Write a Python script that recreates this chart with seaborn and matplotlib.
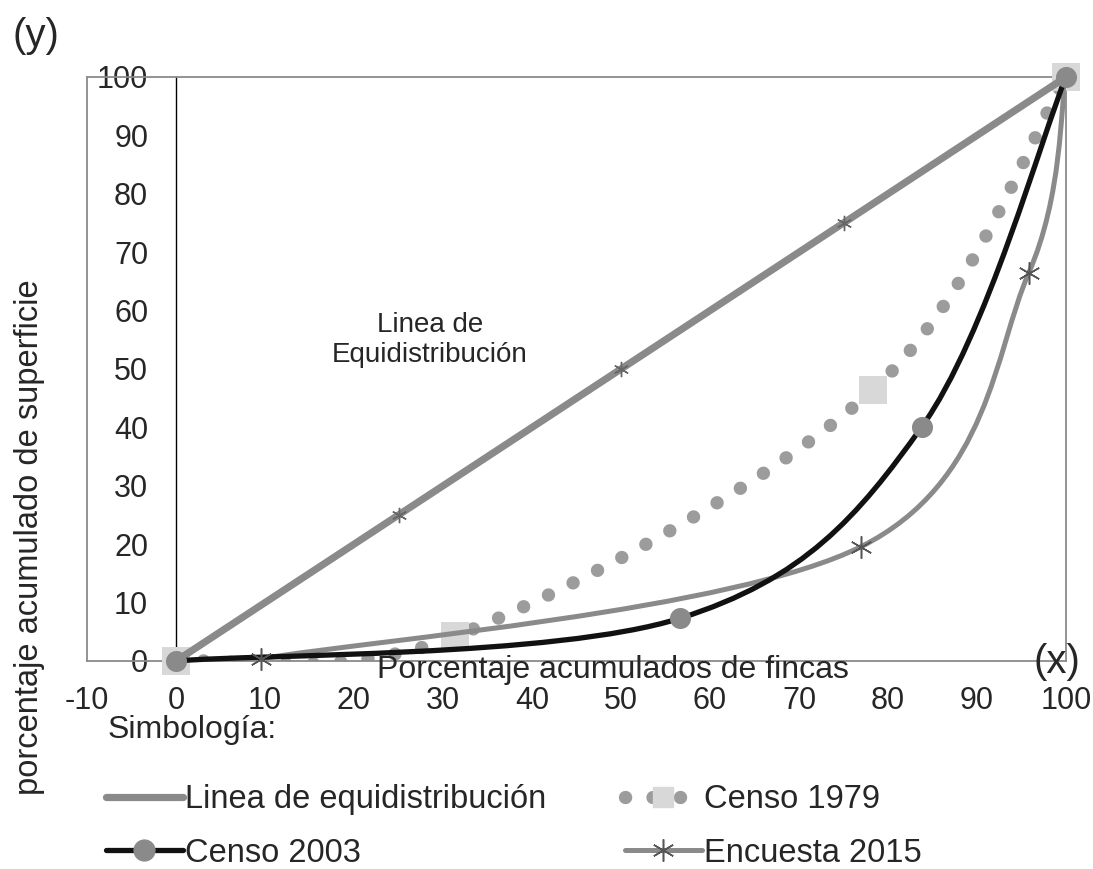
import numpy as np
import matplotlib
matplotlib.use('Agg')
import matplotlib.pyplot as plt
from matplotlib.path import Path
from matplotlib.patches import PathPatch
from matplotlib.lines import Line2D
import seaborn as sns

# data (percent)
eq_x = [0, 25, 50, 75, 100]
eq_y = [0, 25, 50, 75, 100]

censo1979_x = [0, 31.3, 78.3, 100]
censo1979_y = [0, 4.2, 46.4, 100]

censo2003_x = [0, 56.6, 83.8, 100]
censo2003_y = [0, 7.3, 40.1, 100]

encuesta2015_x = [0, 9.6, 77.0, 95.8, 100]
encuesta2015_y = [0, 0.4, 19.6, 66.4, 100]

x_ticks = list(range(-10, 101, 10))
y_ticks = list(range(0, 101, 10))

sns.set_style('white')
plt.rcParams['font.family'] = ['Liberation Sans', 'DejaVu Sans']
plt.rcParams['axes.unicode_minus'] = False

GREY = '#8a8a8a'
DOT = '#9c9c9c'
LIGHT = '#d8d8d8'
STAR = '#555555'


def smooth_path(xs, ys):
    # excel-like smoothed line: bezier segments through the points
    pts = np.column_stack([xs, ys]).astype(float)
    n = len(pts)
    verts = [pts[0]]
    codes = [Path.MOVETO]
    for i in range(n - 1):
        p0 = pts[max(i - 1, 0)]
        p1 = pts[i]
        p2 = pts[i + 1]
        p3 = pts[min(i + 2, n - 1)]
        verts += [p1 + (p2 - p0) / 6, p2 - (p3 - p1) / 6, p2]
        codes += [Path.CURVE4] * 3
    return Path(verts, codes)


W, H = 1093, 869
fig = plt.figure(figsize=(W / 100, H / 100), dpi=100)
ax = fig.add_axes([87 / W, 1 - 661 / H, (1066 - 87) / W, (661 - 77) / H])
ax.set_xlim(-10, 100)
ax.set_ylim(0, 100)

# frame
for s in ['top', 'right', 'bottom']:
    ax.spines[s].set_color(GREY)
    ax.spines[s].set_linewidth(1.3)
ax.spines['left'].set_position(('data', 0))
ax.spines['left'].set_color('black')
ax.spines['left'].set_linewidth(1.0)
ax.axvline(-10, color=GREY, lw=1.3, clip_on=False)

# Censo 1979: dotted smoothed line
ax.add_patch(PathPatch(smooth_path(censo1979_x, censo1979_y), facecolor='none',
                       edgecolor=DOT, lw=9.6, linestyle=(0, (0.01, 2.05)),
                       capstyle='round', zorder=2))
sns.scatterplot(x=censo1979_x, y=censo1979_y, marker='s', s=420, color=LIGHT,
                edgecolor=LIGHT, linewidth=0, zorder=3, clip_on=False, ax=ax)

# equidistribution line
sns.lineplot(x=eq_x, y=eq_y, color=GREY, lw=5.2, marker=(6, 2, 0), markersize=11,
             markeredgecolor='#666666', markeredgewidth=1.0, zorder=4,
             clip_on=False, ax=ax)

# Encuesta 2015
ax.add_patch(PathPatch(smooth_path(encuesta2015_x, encuesta2015_y), facecolor='none',
                       edgecolor=GREY, lw=3.6, zorder=4))
ax.plot(encuesta2015_x[1:-1], encuesta2015_y[1:-1], linestyle='none', marker=(6, 2, 0),
        markersize=16, markeredgecolor=STAR, markeredgewidth=1.1, zorder=6, clip_on=False)

# Censo 2003
ax.add_patch(PathPatch(smooth_path(censo2003_x, censo2003_y), facecolor='none',
                       edgecolor='#111111', lw=3.8, zorder=5, clip_on=False))
sns.scatterplot(x=censo2003_x, y=censo2003_y, marker='o', s=230, color=GREY,
                edgecolor=GREY, linewidth=0, zorder=6, clip_on=False, ax=ax)

ax.set_xticks(x_ticks)
ax.set_yticks(y_ticks)
ax.tick_params(axis='x', length=0, pad=18, labelsize=22)
ax.tick_params(axis='y', direction='out', length=7, width=1, color='black',
               pad=13, labelsize=22)

# texts
fig.text(30 / W, 1 - 537 / H, 'porcentaje acumulado de superficie', rotation=90,
         ha='center', va='center', fontsize=23.5)
fig.text(36 / W, 1 - 36 / H, '(y)', ha='center', va='center', fontsize=29)
fig.text(1057 / W, 1 - 662 / H, '(x)', ha='center', va='center', fontsize=29)
fig.text(613 / W, 1 - 678 / H, 'Porcentaje acumulados de fincas', ha='center',
         va='baseline', fontsize=23)
ax.text(28.5, 55.0, 'Linea de\nEquidistribución', ha='center', va='center',
        fontsize=20, linespacing=1.2)
fig.text(108 / W, 1 - 730 / H, 'Simbología:', ha='left', va='center', fontsize=23)

# legend
h_eq = Line2D([], [], color=GREY, lw=5.2)
h_2003 = Line2D([], [], color='#111111', lw=3.8, marker='o', markersize=15,
                markerfacecolor=GREY, markeredgecolor=GREY)
h_1979 = Line2D([], [], color=DOT, lw=9.6, linestyle=(0, (0.01, 2.05)),
                dash_capstyle='round', marker='s', markersize=14,
                markerfacecolor=LIGHT, markeredgecolor=LIGHT)
h_2015 = Line2D([], [], color=GREY, lw=3.6, marker=(6, 2, 0), markersize=16,
                markeredgecolor=STAR, markeredgewidth=1.1)
fig.legend([h_eq, h_2003, h_1979, h_2015],
           ['Linea de equidistribución', 'Censo 2003', 'Censo 1979', 'Encuesta 2015'],
           loc='upper left', bbox_to_anchor=(106 / W, 1 - 784 / H), ncol=2,
           frameon=False, fontsize=23.5, handlelength=2.35, handletextpad=0.08,
           columnspacing=2.4, labelspacing=0.7, borderpad=0, borderaxespad=0,
           numpoints=1)

fig.savefig('out.png', dpi=100)
